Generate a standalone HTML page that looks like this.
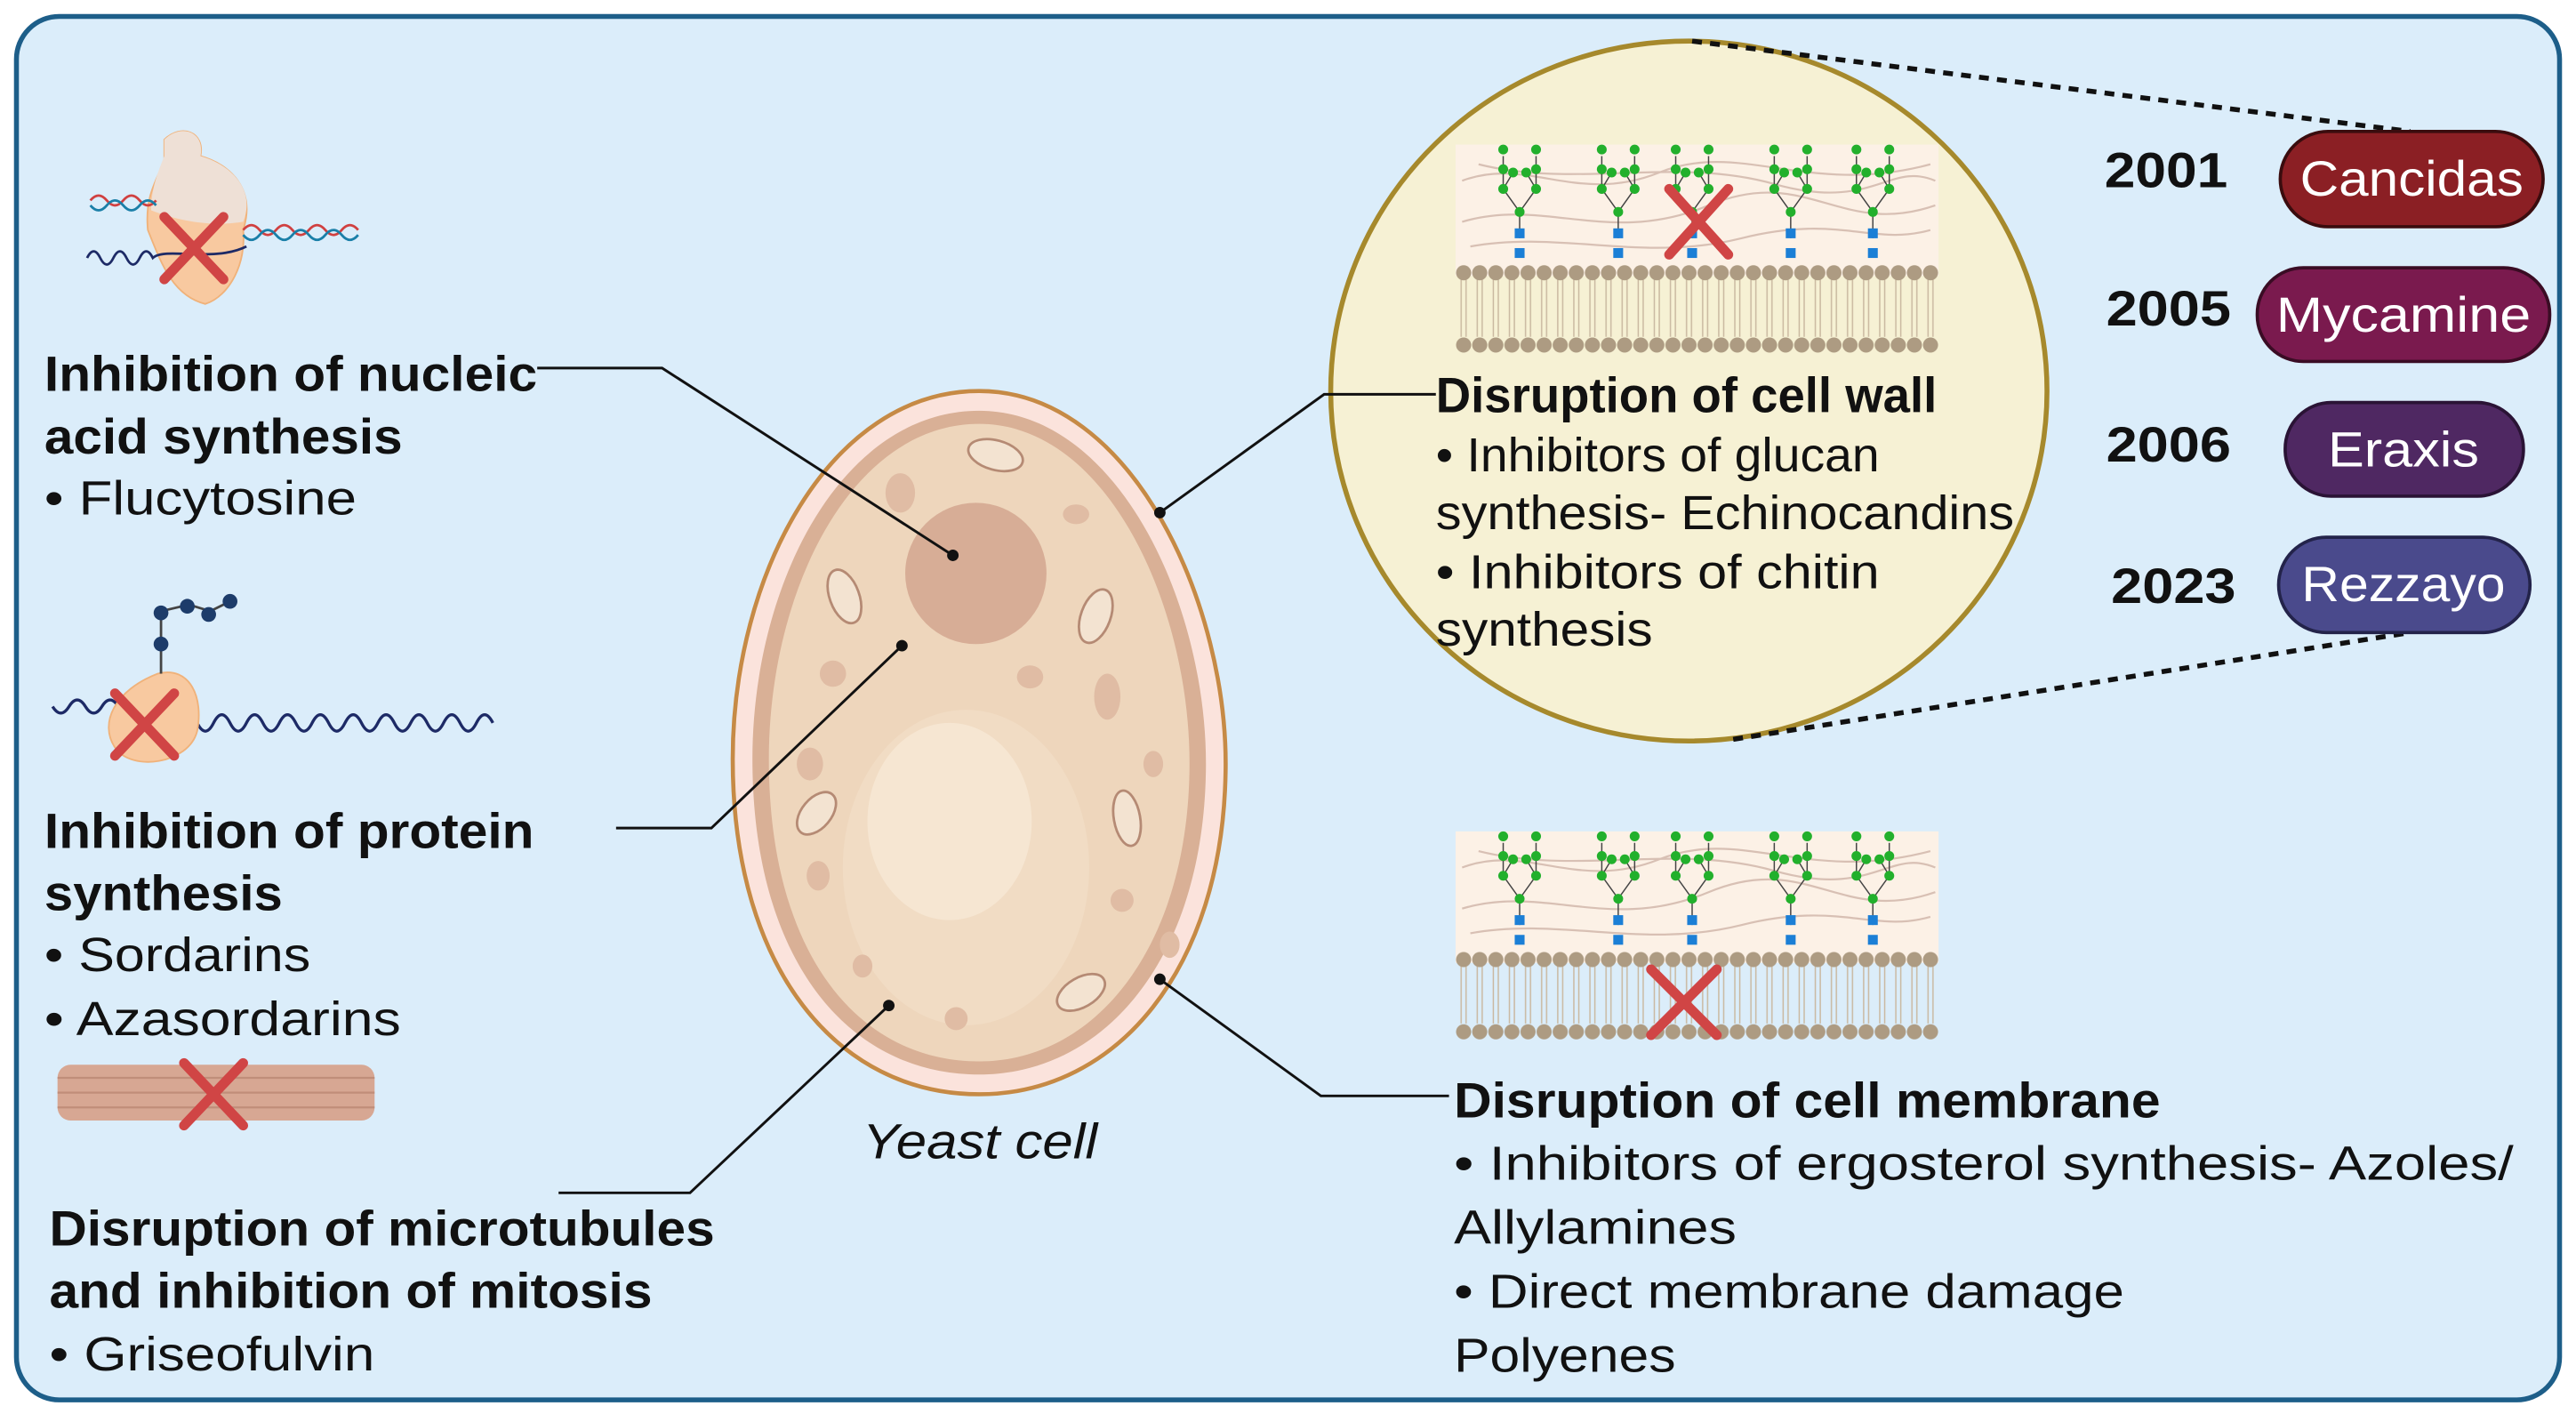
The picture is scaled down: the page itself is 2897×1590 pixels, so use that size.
<!DOCTYPE html>
<html><head><meta charset="utf-8"><style>
html,body{margin:0;padding:0;background:#fff;}
svg{display:block;}
text{font-family:"Liberation Sans",Arial,sans-serif;fill:#111;}
.b{font-weight:bold;font-size:30px;}
.r{font-size:29px;}
.y{font-weight:bold;font-size:30px;}
.p{font-size:30px;fill:#fff;}
</style></head><body>
<svg width="2897" height="1590" viewBox="0 0 1568 860.6" xmlns="http://www.w3.org/2000/svg">
<defs>
  <pattern id="lip" x="886" y="0" width="9.8" height="860" patternUnits="userSpaceOnUse">
    <line x1="3.4" y1="170" x2="3.4" y2="205" stroke="#c9b8a0" stroke-width="0.8"/>
    <line x1="6.4" y1="170" x2="6.4" y2="205" stroke="#c9b8a0" stroke-width="0.8"/>
    <circle cx="4.9" cy="166" r="4.6" fill="#ad9b82"/>
    <circle cx="4.9" cy="210" r="4.6" fill="#ad9b82"/>
  </pattern>
  <g id="tree">
    <path d="M0,0 L0,-16 M0,-16 L-10,-30 L-10,-50 M0,-16 L10,-30 L10,-50 M-10,-30 L-4,-40 M10,-30 L4,-40" stroke="#444" stroke-width="0.8" fill="none"/>
    <circle cx="0" cy="-16" r="3" fill="#22b02c"/>
    <circle cx="-10" cy="-30" r="3" fill="#22b02c"/><circle cx="10" cy="-30" r="3" fill="#22b02c"/>
    <circle cx="-10" cy="-42" r="3" fill="#22b02c"/><circle cx="10" cy="-42" r="3" fill="#22b02c"/>
    <circle cx="-4" cy="-40" r="3" fill="#22b02c"/><circle cx="4" cy="-40" r="3" fill="#22b02c"/>
    <circle cx="-10" cy="-54" r="3" fill="#22b02c"/><circle cx="10" cy="-54" r="3" fill="#22b02c"/>
    <rect x="-3" y="-6" width="6" height="6" fill="#1b7fd6"/>
    <rect x="-3" y="6" width="6" height="6" fill="#1b7fd6"/>
  </g>
  <g id="mem">
    <rect x="886" y="88" width="294" height="80" fill="#fcf1e6"/>
    <path d="M890,110 C930,95 960,125 1010,105 S1100,120 1175,100 M890,135 C940,120 980,150 1040,125 S1120,145 1178,125 M895,150 C950,140 1000,160 1060,145 S1140,150 1175,140 M900,100 C960,115 1020,95 1080,112 S1150,98 1178,110" stroke="#d8c0b4" stroke-width="1.2" fill="none"/>
    <rect x="886" y="160" width="294" height="56" fill="url(#lip)"/>
    <use href="#tree" x="925" y="145"/>
    <use href="#tree" x="985" y="145"/>
    <use href="#tree" x="1030" y="145"/>
    <use href="#tree" x="1090" y="145"/>
    <use href="#tree" x="1140" y="145"/>
  </g>
</defs>
<rect x="0" y="0" width="1568" height="861" fill="#fff"/>
<rect x="10" y="10" width="1548" height="842" rx="26" fill="#dbedfa" stroke="#1d5e89" stroke-width="3"/>

<!-- zoom circle -->
<ellipse cx="1028" cy="238" rx="218" ry="213" fill="#f6f1d4" stroke="#a6892c" stroke-width="3"/>
<!-- dashed lines -->
<line x1="1030" y1="25" x2="1467" y2="80" stroke="#111" stroke-width="3" stroke-dasharray="6,5"/>
<line x1="1055" y1="450" x2="1467" y2="385" stroke="#111" stroke-width="3" stroke-dasharray="6,5"/>
<use href="#mem"/>
<path d="M1016,115 L1052,155 M1052,115 L1016,155" stroke="#d04545" stroke-width="6" stroke-linecap="round"/>
<use href="#mem" y="418"/>
<path d="M1005,590 L1045,630 M1045,590 L1005,630" stroke="#d04545" stroke-width="6" stroke-linecap="round"/>

<!-- pills -->
<rect x="1388" y="80" width="160" height="58" rx="29" fill="#8b1f24" stroke="#3a0c0e" stroke-width="2"/>
<rect x="1374" y="163" width="178" height="57" rx="28" fill="#7a1a4e" stroke="#3a0c24" stroke-width="2"/>
<rect x="1391" y="245" width="145" height="57" rx="28" fill="#4f2862" stroke="#2a1335" stroke-width="2"/>
<rect x="1387" y="327" width="153" height="58" rx="29" fill="#4a4a8c" stroke="#23234a" stroke-width="2"/>
<text class="p" x="1468" y="119" text-anchor="middle" textLength="136" lengthAdjust="spacingAndGlyphs">Cancidas</text>
<text class="p" x="1463" y="202" text-anchor="middle" textLength="155" lengthAdjust="spacingAndGlyphs">Mycamine</text>
<text class="p" x="1463" y="284" text-anchor="middle" textLength="92" lengthAdjust="spacingAndGlyphs">Eraxis</text>
<text class="p" x="1463" y="366" text-anchor="middle" textLength="124" lengthAdjust="spacingAndGlyphs">Rezzayo</text>
<text class="y" x="1281" y="114" textLength="75" lengthAdjust="spacingAndGlyphs">2001</text>
<text class="y" x="1282" y="198" textLength="76" lengthAdjust="spacingAndGlyphs">2005</text>
<text class="y" x="1282" y="281" textLength="76" lengthAdjust="spacingAndGlyphs">2006</text>
<text class="y" x="1285" y="367" textLength="76" lengthAdjust="spacingAndGlyphs">2023</text>

<!-- yeast cell -->
<path d="M596,238 C690,238 748,370 746,470 C744,590 680,666 596,666 C510,666 446,590 446,462 C446,350 505,238 596,238 Z" fill="#fbe3dc" stroke="#c68a45" stroke-width="2.5"/>
<path d="M596,250 C682,250 736,372 734,470 C732,584 672,654 596,654 C516,654 458,584 458,462 C458,356 512,250 596,250 Z" fill="#d9b096"/>
<path d="M596,258 C676,258 726,374 724,470 C722,578 666,646 596,646 C522,646 468,580 468,462 C468,360 518,258 596,258 Z" fill="#eed6bc"/>
<circle cx="594" cy="349" r="43" fill="#d7ad96"/>
<ellipse cx="588" cy="528" rx="75" ry="96" fill="#f1dcc4"/>
<ellipse cx="578" cy="500" rx="50" ry="60" fill="#f6e6d2"/>
<g fill="#e0bca4">
<ellipse cx="548" cy="300" rx="9" ry="12"/><ellipse cx="655" cy="313" rx="8" ry="6"/><ellipse cx="507" cy="410" rx="8" ry="8"/>
<ellipse cx="627" cy="412" rx="8" ry="7"/><ellipse cx="674" cy="424" rx="8" ry="14"/><ellipse cx="493" cy="465" rx="8" ry="10"/>
<ellipse cx="702" cy="465" rx="6" ry="8"/><ellipse cx="498" cy="533" rx="7" ry="9"/><ellipse cx="683" cy="548" rx="7" ry="7"/>
<ellipse cx="525" cy="588" rx="6" ry="7"/><ellipse cx="582" cy="620" rx="7" ry="7"/><ellipse cx="712" cy="575" rx="6" ry="8"/>
</g>
<g fill="#f3e3d1" stroke="#b58a74" stroke-width="1.5">
<ellipse cx="606" cy="277" rx="17" ry="9" transform="rotate(15 606 277)"/>
<ellipse cx="514" cy="363" rx="9" ry="17" transform="rotate(-20 514 363)"/>
<ellipse cx="667" cy="375" rx="9" ry="17" transform="rotate(20 667 375)"/>
<ellipse cx="497" cy="495" rx="9" ry="15" transform="rotate(40 497 495)"/>
<ellipse cx="686" cy="498" rx="8" ry="17" transform="rotate(-10 686 498)"/>
<ellipse cx="658" cy="604" rx="16" ry="9" transform="rotate(-30 658 604)"/>
</g>
<text x="525" y="705" font-size="30" font-style="italic" textLength="143" lengthAdjust="spacingAndGlyphs">Yeast cell</text>

<!-- connectors -->
<g stroke="#111" stroke-width="1.6" fill="none">
<polyline points="327,224 403,224 580,338"/>
<polyline points="375,504 433,504 549,393"/>
<polyline points="340,726 420,726 541,612"/>
<polyline points="706,312 806,240 874,240"/>
<polyline points="706,596 804,667 882,667"/>
</g>
<g fill="#111"><circle cx="580" cy="338" r="3.5"/><circle cx="549" cy="393" r="3.5"/><circle cx="541" cy="612" r="3.5"/><circle cx="706" cy="312" r="3.5"/><circle cx="706" cy="596" r="3.5"/></g>

<!-- left icons -->
<path d="M100,85 C110,75 125,80 122,95 C140,100 156,115 148,140 C150,160 140,180 125,185 C105,180 98,160 90,140 C88,120 95,110 100,98 Z" fill="#f8c9a0" stroke="#f0b27a" stroke-width="1"/>
<path d="M100,85 C110,75 125,80 122,95 C140,100 156,115 148,135 C130,138 110,135 92,128 C92,115 96,105 100,95 Z" fill="#eee0d6"/>
<path d="M55,122 q5,-6 10,0 t10,0 t10,0 t10,0 M148,140 q5,-6 10,0 t10,0 t10,0 t10,0 t10,0 t10,0 t10,0" stroke="#d04040" stroke-width="1.5" fill="none"/>
<path d="M55,125 q5,6 10,0 t10,0 t10,0 t10,0 M148,143 q5,6 10,0 t10,0 t10,0 t10,0 t10,0 t10,0 t10,0" stroke="#1a7fa8" stroke-width="1.5" fill="none"/>
<path d="M53,157 q4,-8 8,0 t8,0 t8,0 t8,0 t8,0 C100,150 130,160 150,150" stroke="#1d2a66" stroke-width="1.5" fill="none"/>
<path d="M100,132 L136,170 M136,132 L100,170" stroke="#d04545" stroke-width="6" stroke-linecap="round"/>

<path d="M32,430 q5,8 10,0 t10,0 t10,0 t10,0 M110,440 q5,-10 10,0 t10,0 t10,0 t10,0 t10,0 t10,0 t10,0 t10,0 t10,0 t10,0 t10,0 t10,0 t10,0 t10,0 t10,0 t10,0 t10,0 t10,0 t10,0" stroke="#1d2a66" stroke-width="1.8" fill="none"/>
<path d="M96,410 C116,405 124,425 120,445 C115,465 80,470 70,455 C60,440 70,420 96,410 Z" fill="#f8c9a0" stroke="#f0b27a"/>
<path d="M98,410 L98,372 L115,368 L128,372 L140,366" stroke="#444" stroke-width="1.5" fill="none"/>
<g fill="#1d3c6a"><circle cx="98" cy="392" r="4.5"/><circle cx="98" cy="373" r="4.5"/><circle cx="114" cy="369" r="4.5"/><circle cx="127" cy="374" r="4.5"/><circle cx="140" cy="366" r="4.5"/></g>
<path d="M70,422 L106,460 M106,422 L70,460" stroke="#d04545" stroke-width="6" stroke-linecap="round"/>

<rect x="35" y="648" width="193" height="34" rx="8" fill="#d7a793"/>
<g stroke="#c08e7a" stroke-width="1.2">
<line x1="35" y1="656" x2="228" y2="656"/><line x1="35" y1="665" x2="228" y2="665"/><line x1="35" y1="674" x2="228" y2="674"/>
</g>
<path d="M112,647 L148,685 M148,647 L112,685" stroke="#d04545" stroke-width="6" stroke-linecap="round"/>

<!-- left texts -->
<text class="b" x="27" y="238" textLength="300" lengthAdjust="spacingAndGlyphs">Inhibition of nucleic</text>
<text class="b" x="27" y="276" textLength="218" lengthAdjust="spacingAndGlyphs">acid synthesis</text>
<text class="r" x="27" y="313" textLength="190" lengthAdjust="spacingAndGlyphs">• Flucytosine</text>
<text class="b" x="27" y="516" textLength="298" lengthAdjust="spacingAndGlyphs">Inhibition of protein</text>
<text class="b" x="27" y="554" textLength="145" lengthAdjust="spacingAndGlyphs">synthesis</text>
<text class="r" x="27" y="591" textLength="162" lengthAdjust="spacingAndGlyphs">• Sordarins</text>
<text class="r" x="27" y="630" textLength="217" lengthAdjust="spacingAndGlyphs">• Azasordarins</text>
<text class="b" x="30" y="758" textLength="405" lengthAdjust="spacingAndGlyphs">Disruption of microtubules</text>
<text class="b" x="30" y="796" textLength="367" lengthAdjust="spacingAndGlyphs">and inhibition of mitosis</text>
<text class="r" x="30" y="834" textLength="198" lengthAdjust="spacingAndGlyphs">• Griseofulvin</text>

<!-- right texts -->
<text class="b" x="874" y="251" textLength="305" lengthAdjust="spacingAndGlyphs">Disruption of cell wall</text>
<text class="r" x="874" y="287" textLength="270" lengthAdjust="spacingAndGlyphs">• Inhibitors of glucan</text>
<text class="r" x="874" y="322" textLength="352" lengthAdjust="spacingAndGlyphs">synthesis- Echinocandins</text>
<text class="r" x="874" y="358" textLength="270" lengthAdjust="spacingAndGlyphs">• Inhibitors of chitin</text>
<text class="r" x="874" y="393" textLength="132" lengthAdjust="spacingAndGlyphs">synthesis</text>
<text class="b" x="885" y="680" textLength="430" lengthAdjust="spacingAndGlyphs">Disruption of cell membrane</text>
<text class="r" x="885" y="718" textLength="645" lengthAdjust="spacingAndGlyphs">• Inhibitors of ergosterol synthesis- Azoles/</text>
<text class="r" x="885" y="757" textLength="172" lengthAdjust="spacingAndGlyphs">Allylamines</text>
<text class="r" x="885" y="796" textLength="408" lengthAdjust="spacingAndGlyphs">• Direct membrane damage</text>
<text class="r" x="885" y="835" textLength="135" lengthAdjust="spacingAndGlyphs">Polyenes</text>
</svg>
</body></html>
